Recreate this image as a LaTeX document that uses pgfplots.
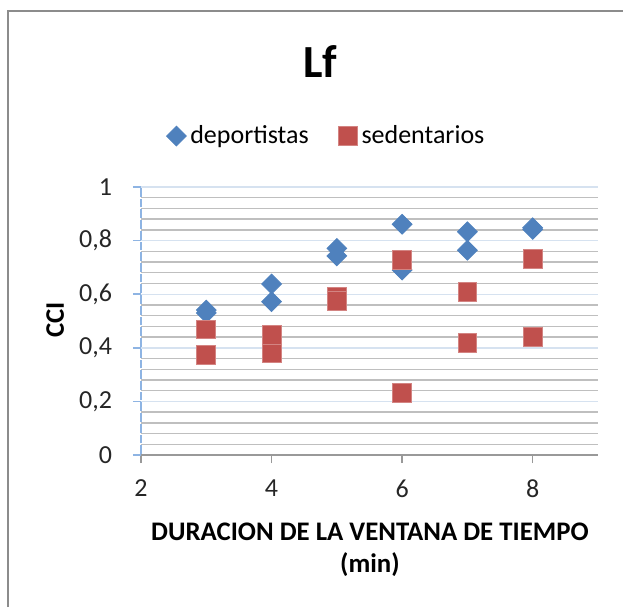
\documentclass[border=0pt]{standalone}
\usepackage{pgfplots}
\pgfplotsset{compat=1.18}
\usepackage{fontspec}
\setmainfont{Carlito}

\definecolor{serA}{HTML}{4F81BD}
\definecolor{serB}{HTML}{C0504D}
\definecolor{majgrid}{HTML}{D6E2F0}
\definecolor{mingrid}{HTML}{BFBFBF}
\definecolor{yaxis}{HTML}{8EB4E3}
\definecolor{frame}{HTML}{8C8C8C}

\begin{document}
\begin{tikzpicture}
% picture units: 1 px of the reference = 0.5pt
\useasboundingbox (0,0) rectangle (311.5pt,-303.5pt);
\draw[frame, line width=1pt] (4pt,-303.5pt) -- (4pt,-5.5pt) -- (311.5pt,-5.5pt);

\node[font=\fontsize{23}{26}\selectfont\bfseries] at (160pt,-31pt) {Lf};

\begin{axis}[
    at={(70.5pt,-227.5pt)}, anchor=south west,
    scale only axis,
    width=228.5pt, height=134pt,
    xmin=2, xmax=9,
    ymin=0, ymax=1,
    xtick={2,4,6,8},
    ytick={0,0.2,0.4,0.6,0.8,1},
    minor y tick num=4,
    axis x line*=bottom,
    axis y line*=left,
    x axis line style={black!40, line width=0.8pt, -},
    y axis line style={yaxis, line width=0.8pt, -,
        dash pattern=on 4.36pt off 1pt, dash phase=4.86pt},
    ymajorgrids, yminorgrids,
    major grid style={majgrid, line width=0.7pt},
    minor grid style={mingrid, line width=0.7pt},
    tick align=outside,
    major tick length=4pt,
    minor tick length=0pt,
    xtick style={black!40, line width=0.8pt},
    ytick style={yaxis, line width=0.8pt},
    ticklabel style={font=\fontsize{13}{15}\selectfont, text=black!85},
    xticklabel style={yshift=-5pt},
    yticklabel style={xshift=-7pt},
    /pgf/number format/assume math mode=true,
    /pgf/number format/use comma,
    yticklabel style={/pgf/number format/fixed, /pgf/number format/precision=1},
    xlabel={DURACION DE LA VENTANA DE TIEMPO\\(min)},
    xlabel style={font=\fontsize{13.4}{16}\selectfont\bfseries, align=center,
        at={(axis description cs:0.501,-0.228)}, anchor=north},
    ylabel={CCI},
    ylabel style={font=\fontsize{13.4}{15}\selectfont\bfseries,
        at={(axis description cs:-0.188,0.504)}, anchor=center},
    legend columns=2,
    legend style={at={(0.408,1.19)}, anchor=center, draw=none, fill=none,
        font=\fontsize{13}{15}\selectfont,
        /tikz/every even column/.append style={column sep=13pt}},
    legend cell align=left,
    clip=false,
]
\addplot[only marks, mark=square*, mark size=3.5pt,
    mark options={rotate=45, fill=serA, draw=serA}]
    coordinates {(3,0.541) (3,0.530) (4,0.638) (4,0.572) (5,0.771) (5,0.743)
                 (6,0.861) (6,0.690) (7,0.833) (7,0.764) (8,0.848) (8,0.842)};
\addlegendentry{deportistas}
\addplot[only marks, mark=square*, mark size=4.7pt,
    mark options={fill=serB, draw=serB!70!white, line width=0.4pt}]
    coordinates {(3,0.469) (3,0.373) (4,0.448) (4,0.379) (5,0.592) (5,0.574)
                 (6,0.728) (6,0.232) (7,0.608) (7,0.417) (8,0.733) (8,0.441)};
\addlegendentry{sedentarios}
\end{axis}
\end{tikzpicture}
\end{document}
